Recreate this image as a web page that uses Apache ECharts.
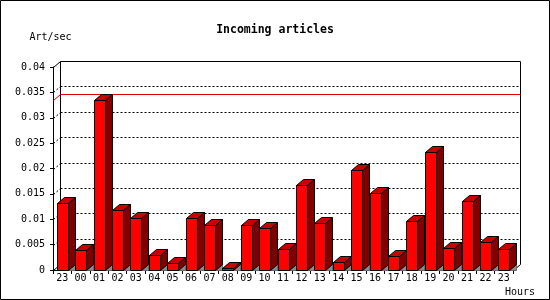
<!DOCTYPE html>
<html><head><meta charset="utf-8">
<script src="https://cdn.jsdelivr.net/npm/echarts@6/dist/echarts.min.js"></script>
<style>html,body{margin:0;padding:0;background:#fff}#c{width:550px;height:300px}</style>
</head><body><div id="c"></div>
<script>
const hours = ['23','00','01','02','03','04','05','06','07','08','09','10','11','12','13','14','15','16','17','18','19','20','21','22','23'];
const artPerSec = [0.0133,0.0039,0.0334,0.0118,0.0103,0.0030,0.0014,0.0103,0.0089,0.0003,0.0089,0.0083,0.0042,0.0167,0.0093,0.0016,0.0198,0.0152,0.0028,0.0097,0.0232,0.0044,0.0136,0.0056,0.0042];
const yTickValues = [0,0.005,0.01,0.015,0.02,0.025,0.03,0.035,0.04];
const yTickLabels = ['0','0.005','0.01','0.015','0.02','0.025','0.03','0.035','0.04'];
const maxRate = [Math.max.apply(null, artPerSec)];

const DX = 7, DY = 6, BAR_W = 11;
const FONT = '"DejaVu Sans Mono", monospace';
const s = v => Math.round(v) + 0.5;
const ln = (x1,y1,x2,y2,color,dash) => ({type:'line', silent:true,
  shape:{x1:x1,y1:y1,x2:x2,y2:y2},
  style:{stroke:color||'#000', lineWidth:1, lineDash:dash||null}});

function renderFrame(params, api) {
  const cs = params.coordSys;
  const L = s(cs.x), T = s(cs.y), R = s(cs.x + cs.width), B = s(cs.y + cs.height);
  const ch = [];
  yTickValues.forEach(v => {
    if (v <= 0 || v >= 0.04) return;
    const y = s(api.coord([0, v])[1]);
    ch.push(ln(L + DX, y - DY, R + DX, y - DY, '#000', [2,2]));
    ch.push(ln(L, y, L + DX, y - DY, '#000', [2,2]));
  });
  ch.push(ln(L + DX, T - DY, R + DX, T - DY));
  ch.push(ln(L, T, L + DX, T - DY));
  ch.push(ln(L + DX, T - DY, L + DX, B - DY));
  ch.push(ln(R + DX, T - DY, R + DX, B - DY));
  ch.push(ln(R, B, R + DX, B - DY));
  ch.push(ln(L, B, L + DX, B - DY));
  return {type:'group', children: ch};
}

function renderMax(params, api) {
  const cs = params.coordSys;
  const L = s(cs.x), R = s(cs.x + cs.width);
  const y = s(api.coord([0, api.value(1)])[1]);
  return {type:'group', children:[
    ln(L + DX, y - DY, R + DX, y - DY, '#e00000'),
    ln(L, y, L + DX, y - DY, '#e00000')
  ]};
}

function renderBar(params, api) {
  const idx = api.value(0), val = api.value(1);
  const p = api.coord([idx, val]);
  const p0 = api.coord([idx, 0]);
  const xL = s(p[0] - BAR_W / 2), xR = xL + BAR_W;
  const yB = s(p0[1]);
  let yT = s(p[1]);
  if (yT > yB - 1) yT = yB - 1;
  const st = {lineWidth:1, stroke:'#000'};
  return {type:'group', children:[
    {type:'polygon', shape:{points:[[xR,yB],[xR+DX,yB-DY],[xR+DX,yB]]},
     style:{fill:'#8c8c8c', stroke:'#6a6a6a', lineWidth:1}},
    {type:'polygon', shape:{points:[[xR,yT],[xR+DX,yT-DY],[xR+DX,yB-DY],[xR,yB]]},
     style:Object.assign({fill:'#800000'}, st)},
    {type:'polygon', shape:{points:[[xL,yT],[xL+DX,yT-DY],[xR+DX,yT-DY],[xR,yT]]},
     style:Object.assign({fill:'#c80000'}, st)},
    {type:'rect', shape:{x:xL, y:yT, width:BAR_W, height:yB - yT},
     style:Object.assign({fill:'#ff0000'}, st)}
  ]};
}

const chart = echarts.init(document.getElementById('c'), null, {renderer:'canvas'});
chart.setOption({
  animation: false,
  backgroundColor: '#fff',
  title: {
    text: 'Incoming articles', left: 'center', top: 19,
    textStyle: {fontFamily: FONT, fontWeight: 'bold', fontSize: 11.5, color: '#000'}
  },
  graphic: [{type:'rect', silent:true, z:100,
    shape:{x:0.5, y:0.5, width:549, height:299},
    style:{fill:null, stroke:'#000', lineWidth:1}}],
  grid: {left: 53, right: 37, top: 67, bottom: 30, containLabel: false},
  xAxis: {
    type: 'category', data: hours,
    name: 'Hours', nameLocation: 'end', nameGap: -8, nameMoveOverlap: false,
    nameTextStyle: {fontFamily: FONT, fontSize: 10, color: '#000', align: 'left', verticalAlign: 'top', padding: [17,0,0,0]},
    axisLine: {lineStyle: {color: '#000', width: 1}},
    axisTick: {show: true, length: 4, interval: 0, lineStyle: {color: '#000'}},
    axisLabel: {interval: 0, margin: 3, fontFamily: FONT, fontSize: 10, color: '#000'},
    splitLine: {show: false}
  },
  yAxis: {
    type: 'value', min: 0, max: 0.04, interval: 0.005,
    name: 'Art/sec', nameLocation: 'end', nameGap: 30, nameMoveOverlap: false,
    nameTextStyle: {fontFamily: FONT, fontSize: 10, color: '#000', align: 'center', verticalAlign: 'middle', padding: [0,5,0,0]},
    axisLine: {show: true, lineStyle: {color: '#000', width: 1}},
    axisTick: {show: true, length: 3, lineStyle: {color: '#000'}},
    axisLabel: {margin: 8, fontFamily: FONT, fontSize: 10, color: '#000',
      formatter: v => yTickLabels[Math.round(v / 0.005)]},
    splitLine: {show: false}
  },
  series: [
    {type:'custom', name:'frame', z:1, silent:true, renderItem: renderFrame, data: [[0, 0]]},
    {type:'custom', name:'max', z:1, silent:true, renderItem: renderMax, data: maxRate.map(v => [0, v])},
    {type:'custom', name:'Art/sec', z:2, renderItem: renderBar,
     data: artPerSec.map((v, i) => [i, v])}
  ]
});
</script></body></html>
